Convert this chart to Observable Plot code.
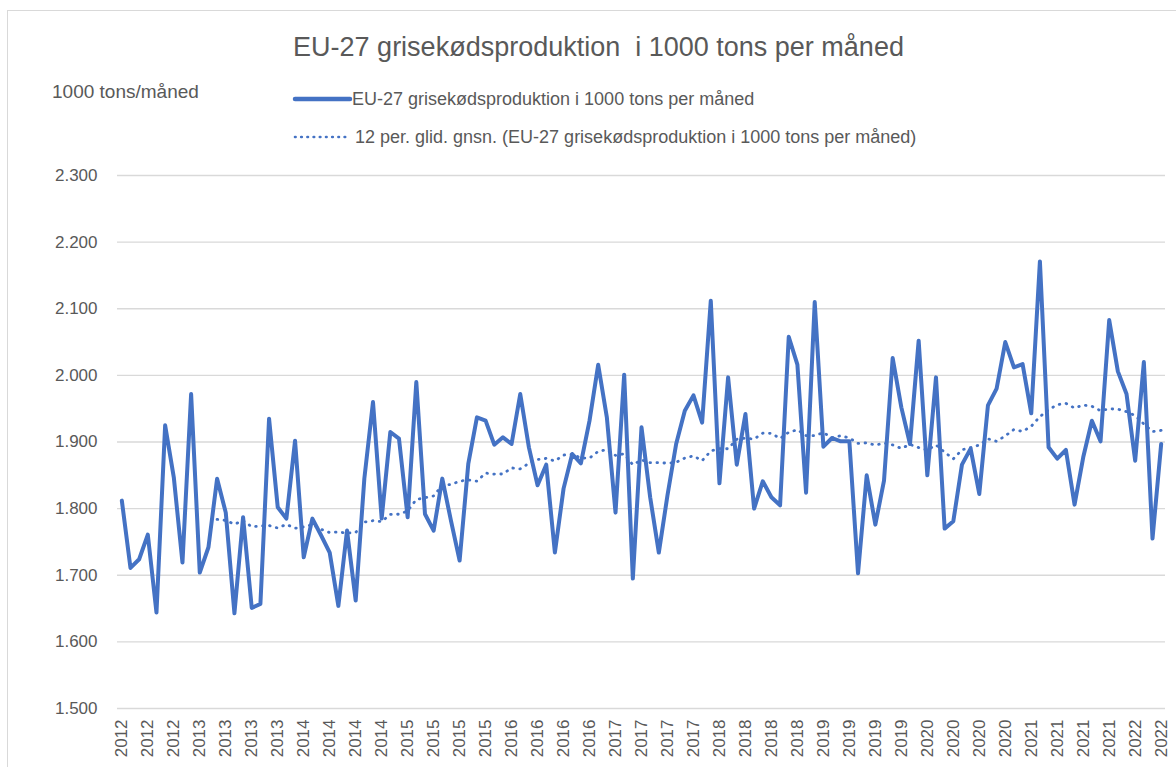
<!DOCTYPE html>
<html>
<head>
<meta charset="utf-8">
<script src="https://cdn.jsdelivr.net/npm/d3@7"></script>
<script src="https://cdn.jsdelivr.net/npm/@observablehq/plot@0.6"></script>
<style>
  html, body { margin: 0; padding: 0; background: #fff; }
  #wrap { position: relative; width: 1176px; height: 767px; overflow: hidden; font-family: "Liberation Sans", Arial, sans-serif; color: #595959; }
  #frame { position: absolute; left: 7px; top: 10px; width: 1300px; height: 900px; border: 1.5px solid #d9d9d9; box-sizing: border-box; }
  #title { position: absolute; left: 0; top: 31px; width: 1197px; text-align: center; font-size: 27px; line-height: 32px; white-space: pre; }
  #ylab { position: absolute; left: 52px; top: 80px; font-size: 19px; line-height: 24px; white-space: nowrap; }
  .leg { position: absolute; font-size: 18px; line-height: 22px; white-space: nowrap; }
  .leg svg { position: absolute; top: 0; }
  #chart { position: absolute; left: 0; top: 160px; }
</style>
</head>
<body>
<div id="wrap">
  <div id="frame"></div>
  <div id="title"></div>
  <div id="ylab"></div>
  <div class="leg" id="leg1" style="left:292px; top:88px;"></div>
  <div class="leg" id="leg2" style="left:292px; top:126px;"></div>
  <div id="chart"></div>
</div>
<script>
// Title and labels
const titleText = "EU-27 grisekødsproduktion  i 1000 tons per måned";
const yAxisTitle = "1000 tons/måned";
const seriesName = "EU-27 grisekødsproduktion i 1000 tons per måned";
const trendName = "12 per. glid. gnsn. (EU-27 grisekødsproduktion i 1000 tons per måned)";

// Monthly production, 1000 tons (121 months)
const production = [
  1812, 1711, 1724, 1761, 1644, 1925, 1847, 1719, 1972, 1704,
  1742, 1845, 1794, 1643, 1787, 1651, 1657, 1935, 1802, 1785,
  1902, 1727, 1785, 1760, 1734, 1654, 1767, 1662, 1845, 1960,
  1785, 1915, 1905, 1787, 1990, 1792, 1767, 1845, 1782, 1722,
  1867, 1937, 1932, 1896, 1907, 1897, 1972, 1892, 1835, 1866,
  1734, 1830, 1882, 1868, 1932, 2016, 1937, 1794, 2001, 1695,
  1922, 1817, 1734, 1820, 1897, 1947, 1970, 1929, 2112, 1838,
  1997, 1866, 1942, 1800, 1841, 1817, 1805, 2058, 2016, 1824,
  2110, 1893, 1906, 1901, 1901, 1703, 1850, 1776, 1842, 2026,
  1952, 1897, 2052, 1850, 1997, 1770, 1781, 1866, 1890, 1822,
  1955, 1980, 2050, 2012, 2017, 1943, 2171, 1892, 1875, 1888,
  1806, 1877, 1932, 1901, 2083, 2006, 1972, 1872, 2020, 1755,
  1897
];

// Category-axis labels (every third month)
const tickLabels = [
  "2012","2012","2012",
  "2013","2013","2013","2013",
  "2014","2014","2014","2014",
  "2015","2015","2015","2015",
  "2016","2016","2016","2016",
  "2017","2017","2017","2017",
  "2018","2018","2018","2018",
  "2019","2019","2019","2019",
  "2020","2020","2020","2020",
  "2021","2021","2021","2021",
  "2022","2022"
];
const tickStep = 3;
const yTicks = [1500, 1600, 1700, 1800, 1900, 2000, 2100, 2200, 2300];

const blue = "#4472C4";
const grid = "#d9d9d9";

document.getElementById("title").textContent = titleText;
document.getElementById("ylab").textContent = yAxisTitle;

function legendItem(id, name, dashed, textLeft) {
  const el = document.getElementById(id);
  const ns = "http://www.w3.org/2000/svg";
  const svg = document.createElementNS(ns, "svg");
  svg.setAttribute("width", 62); svg.setAttribute("height", 22);
  svg.style.left = "0px";
  const ln = document.createElementNS(ns, "line");
  ln.setAttribute("x1", dashed ? 3 : 3); ln.setAttribute("x2", dashed ? 54 : 58);
  ln.setAttribute("y1", 11); ln.setAttribute("y2", 11);
  ln.setAttribute("stroke", blue);
  ln.setAttribute("stroke-width", dashed ? 2.6 : 4.5);
  ln.setAttribute("stroke-linecap", "round");
  if (dashed) ln.setAttribute("stroke-dasharray", "0.6,5.6");
  svg.appendChild(ln);
  el.appendChild(svg);
  const span = document.createElement("span");
  span.textContent = name;
  span.style.position = "absolute";
  span.style.left = textLeft + "px";
  el.appendChild(span);
}
legendItem("leg1", seriesName, false, 60);
legendItem("leg2", trendName, true, 63);

const locale = d3.formatLocale({decimal: ",", thousands: ".", grouping: [3], currency: ["", " kr."]});
const fmt = locale.format(",d");

const tickIdx = tickLabels.map((_, j) => j * tickStep);

const chart = Plot.plot({
  width: 1176,
  height: 607,
  marginTop: 15,
  marginBottom: 59,
  marginLeft: 117,
  marginRight: 11,
  style: {fontFamily: "'Liberation Sans', Arial, sans-serif", fontSize: "17px", color: "#595959", background: "transparent", overflow: "visible"},
  x: {domain: [-0.5, production.length - 0.5], ticks: tickIdx, tickFormat: d => tickLabels[Math.round(d / tickStep)], tickRotate: -90, tickSize: 0, tickPadding: 11, label: null},
  y: {domain: [1500, 2300], ticks: yTicks, tickFormat: fmt, tickSize: 0, tickPadding: 20, label: null},
  marks: [
    Plot.ruleY(yTicks, {stroke: grid, strokeWidth: 1.4}),
    Plot.lineY(production, {x: (d, i) => i, y: d => d, stroke: blue, strokeWidth: 4, strokeLinejoin: "round", strokeLinecap: "round"}),
    Plot.lineY(production, Plot.windowY({k: 12, anchor: "end", strict: true}, {x: (d, i) => i, y: d => d, stroke: blue, strokeWidth: 2.8, strokeLinecap: "round", strokeDasharray: "0.6,6.4"}))
  ]
});
document.getElementById("chart").appendChild(chart);
</script>
</body>
</html>
